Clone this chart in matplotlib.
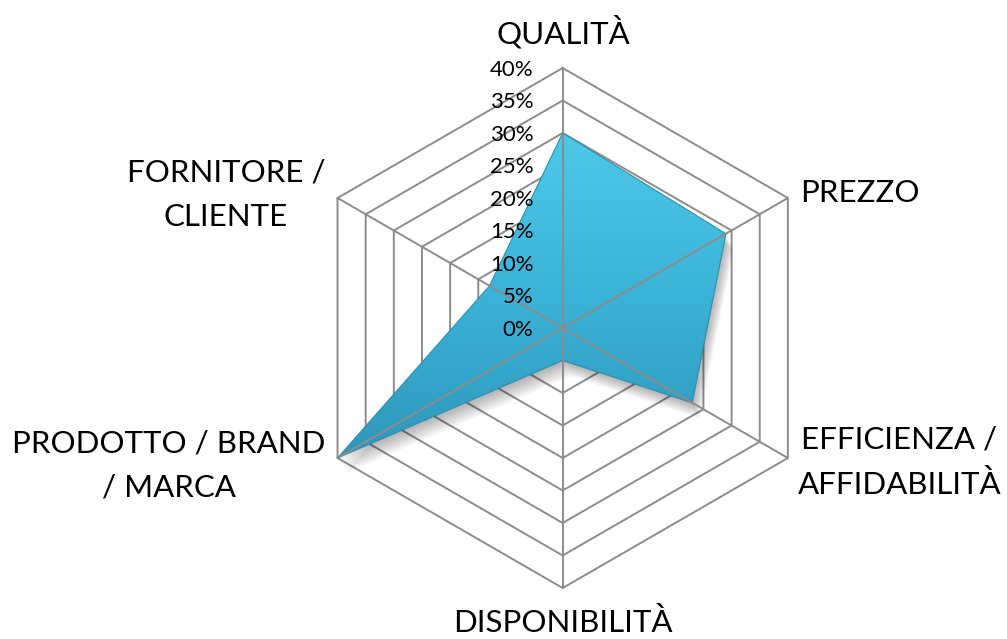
import numpy as np
import matplotlib
matplotlib.use('Agg')
import matplotlib.pyplot as plt
from matplotlib.patches import Polygon
from matplotlib.colors import LinearSegmentedColormap

# data
categories = ['QUALITÀ', 'PREZZO', 'EFFICIENZA /\nAFFIDABILITÀ', 'DISPONIBILITÀ',
              'PRODOTTO / BRAND\n/ MARCA', 'FORNITORE /\nCLIENTE']
values = [30, 29, 23, 5, 40, 13]
ticks = [0, 5, 10, 15, 20, 25, 30, 35, 40]
tick_labels = ['0%', '5%', '10%', '15%', '20%', '25%', '30%', '35%', '40%']

plt.rcParams['font.family'] = ['Lato', 'DejaVu Sans']

grid_col = '#8c8c8c'
n = len(categories)
ang = np.deg2rad(90 - 60 * np.arange(n))

def to_xy(r):
    r = np.asarray(r, dtype=float)
    return np.column_stack([r * np.cos(ang), r * np.sin(ang)])

fig = plt.figure(figsize=(10.07, 6.39), dpi=100)
ax = fig.add_axes([0, 0, 1, 1])
ax.axis('off')

# hexagon rings
for t in ticks[1:]:
    ring = to_xy([t] * n)
    ring = np.vstack([ring, ring[:1]])
    ax.plot(ring[:, 0], ring[:, 1], color=grid_col, lw=1.4, zorder=1)

xy = to_xy(values)

# soft shadow
for k in range(1, 9):
    sh = Polygon(xy + np.array([0.15 * k, -0.3 * k]), closed=True,
                 facecolor='black', edgecolor='none', alpha=0.04, zorder=2)
    ax.add_patch(sh)

# gradient fill
poly = Polygon(xy, closed=True, facecolor='none', edgecolor='#2b8fb0', lw=0.8, zorder=4)
ax.add_patch(poly)
cmap = LinearSegmentedColormap.from_list('blu', ['#4fc8e8', '#3bb3d8', '#2e97bb'])
grad = np.linspace(0, 1, 256)[:, None]
im = ax.imshow(grad, extent=(xy[:, 0].min(), xy[:, 0].max(), xy[:, 1].min(), xy[:, 1].max()),
               cmap=cmap, aspect='auto', origin='upper', zorder=3)
im.set_clip_path(poly)

# spokes
for a in ang:
    ax.plot([0, 40 * np.cos(a)], [0, 40 * np.sin(a)], color=grid_col, lw=1.4, zorder=5)

# radial tick labels
for t, lab in zip(ticks, tick_labels):
    ax.text(-4.5, t - 0.3, lab, ha='right', va='center', fontsize=16, color='black', zorder=6)

# category labels
lab_pos = [(0.05, 45.6, 'center'), (36.5, 20.7, 'left'), (51.8, -20.6, 'center'),
           (0.0, -45.3, 'center'), (-60.6, -21.1, 'center'), (-51.8, 20.5, 'center')]
for (x, y, ha), name in zip(lab_pos, categories):
    ax.text(x, y, name, ha=ha, va='center', multialignment='center',
            fontsize=22.5, linespacing=1.7, color='black')

ax.set_xlim(-562.7 / 6.5, (1007 - 562.7) / 6.5)
ax.set_ylim(-(639 - 328) / 6.5, 328 / 6.5)

fig.savefig('out.png', dpi=100)
